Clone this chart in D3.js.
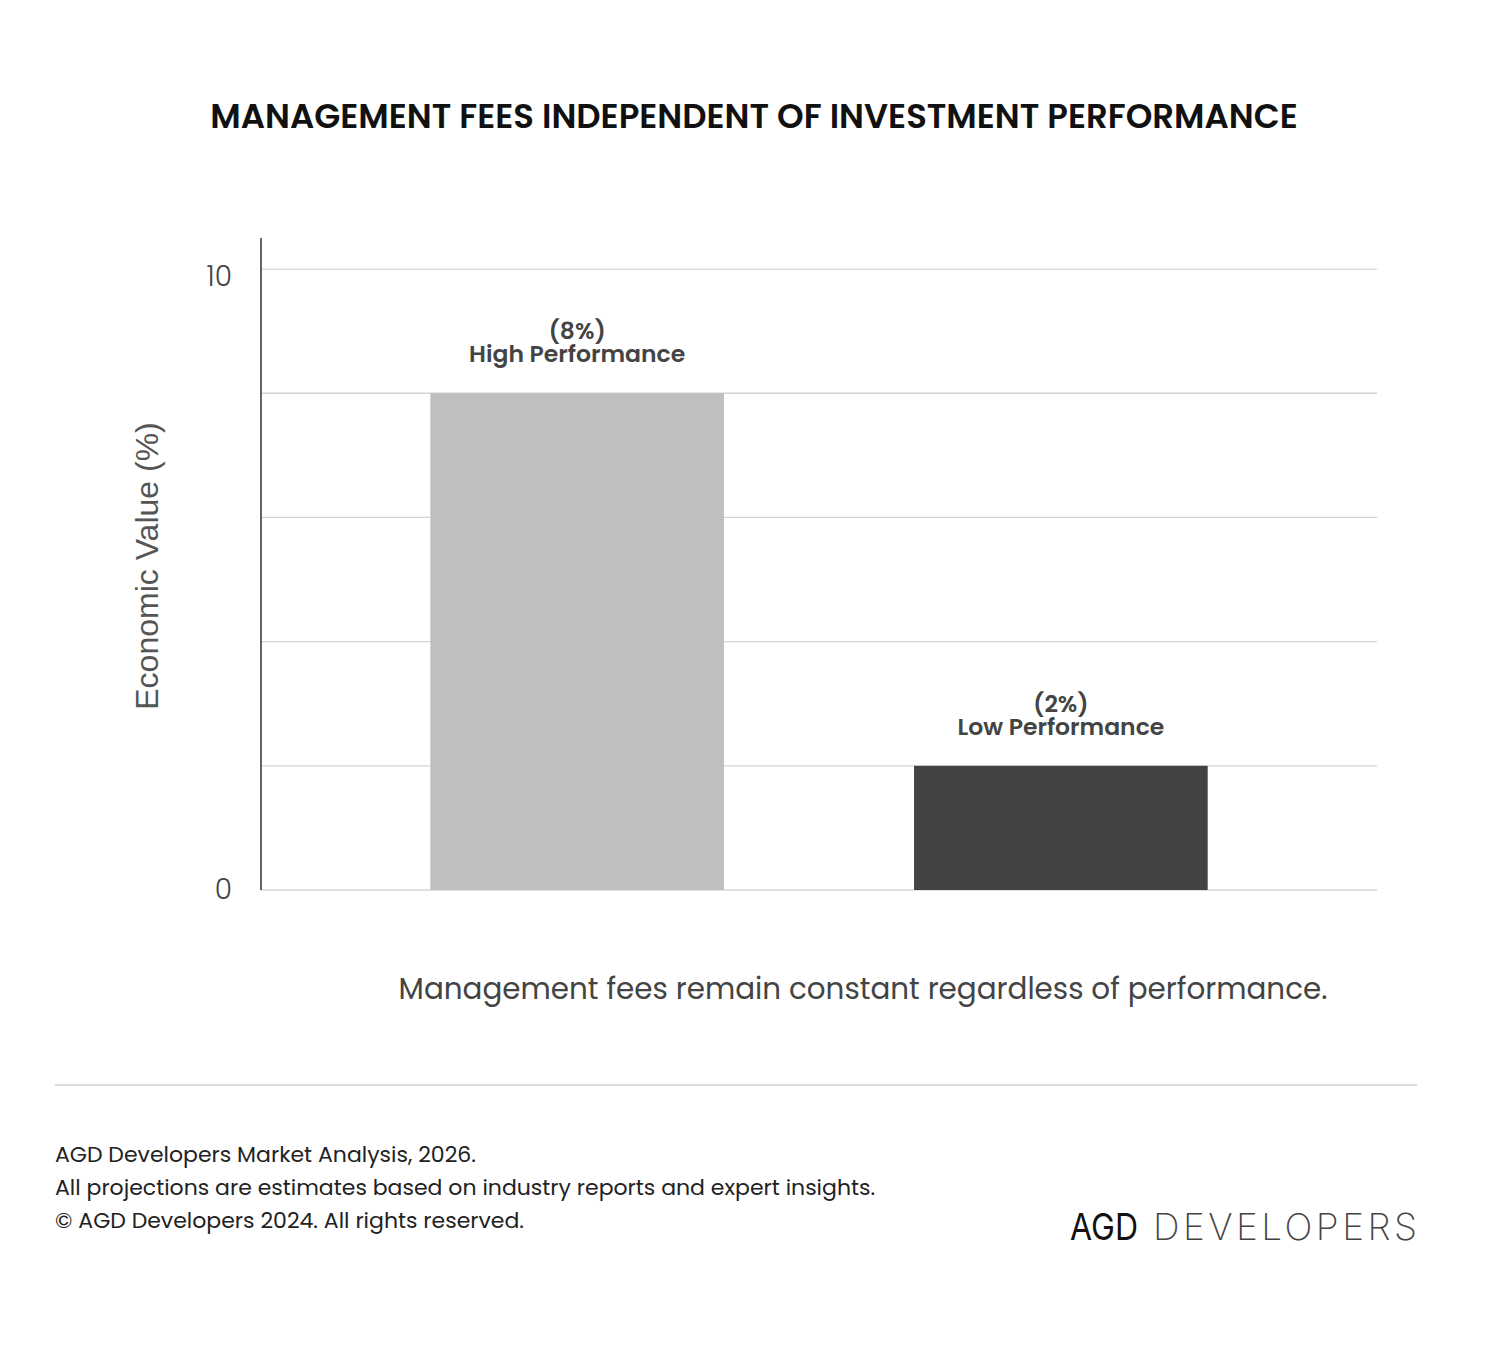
<!DOCTYPE html>
<html>
<head>
<meta charset="utf-8">
<script src="https://cdn.jsdelivr.net/npm/d3@7"></script>
<style>
  html, body { margin: 0; padding: 0; background: #fff; }
  svg { display: block; }
</style>
</head>
<body>
<svg id="chart" width="1508" height="1350"></svg>
<script>
// ---- data ----
const categories = ["High Performance", "Low Performance"];
const values = [8, 2];
const valueLabels = ["(8%)", "(2%)"];
const barColors = ["#bfbfbf", "#434343"];
const gridTicks = [0, 2, 4, 6, 8, 10];
const tickLabels = [0, 10];
const title = "MANAGEMENT FEES INDEPENDENT OF INVESTMENT PERFORMANCE";
const yAxisTitle = "Economic Value (%)";
const caption = "Management fees remain constant regardless of performance.";
const footerLines = [
  "AGD Developers Market Analysis, 2026.",
  "All projections are estimates based on industry reports and expert insights.",
  "© AGD Developers 2024. All rights reserved."
];
const logoMark = "AGD";
const logoWord = "DEVELOPERS";

(function () {
const FONT = "Poppins, Inter, 'Open Sans', sans-serif";
const svg = d3.select("#chart");
svg.append("rect").attr("width", 1508).attr("height", 1350).attr("fill", "#fff");

const pLeft = 261, pRight = 1377, pTop = 238, pBottom = 890;
const y = d3.scaleLinear().domain([0, 10.5]).range([pBottom, pTop]);
const x = d3.scaleBand().domain(categories).range([pLeft, pRight])
  .paddingInner(0.393).paddingOuter(0.35);

// title
svg.append("text")
  .attr("x", 754).attr("y", 128)
  .attr("text-anchor", "middle")
  .attr("font-family", FONT).attr("font-weight", 600)
  .attr("font-size", 33.9).attr("fill", "#111")
  .text(title);

// gridlines
svg.append("g")
  .selectAll("line").data(gridTicks).join("line")
  .attr("x1", pLeft).attr("x2", pRight)
  .attr("y1", d => y(d)).attr("y2", d => y(d))
  .attr("stroke", "#d4d4d4").attr("stroke-width", 1.3);

// bars
svg.append("g")
  .selectAll("rect").data(categories).join("rect")
  .attr("x", d => x(d)).attr("width", x.bandwidth())
  .attr("y", (d, i) => y(values[i]))
  .attr("height", (d, i) => y(0) - y(values[i]))
  .attr("fill", (d, i) => barColors[i]);

// y axis
const yAxis = d3.axisLeft(y).tickValues(tickLabels).tickSize(0).tickPadding(29)
  .tickFormat(d3.format("d"));
const gy = svg.append("g").attr("transform", `translate(${pLeft},0)`).call(yAxis);
gy.select(".domain").remove();
gy.selectAll("text").attr("font-family", FONT).attr("font-size", 28)
  .attr("fill", "#444").attr("font-weight", 300)
  .attr("dy", d => d === 10 ? "0.58em" : "0.32em");
svg.append("line").attr("x1", pLeft).attr("x2", pLeft).attr("y1", pTop).attr("y2", pBottom)
  .attr("stroke", "#333").attr("stroke-width", 1.5);

// bar labels
const lbl = svg.append("g");
categories.forEach((c, i) => {
  const cx = x(c) + x.bandwidth() / 2;
  const ty = y(values[i]);
  lbl.append("text").attr("x", cx).attr("y", ty - 54)
    .attr("text-anchor", "middle").attr("font-family", FONT).attr("font-weight", 600)
    .attr("font-size", 23.5).attr("fill", "#444").text(valueLabels[i]);
  lbl.append("text").attr("x", cx).attr("y", ty - 31)
    .attr("text-anchor", "middle").attr("font-family", FONT).attr("font-weight", 600)
    .attr("font-size", 23.5).attr("fill", "#444").text(c);
});

// y axis title
svg.append("text")
  .attr("transform", "translate(158,566) rotate(-90)")
  .attr("text-anchor", "middle")
  .attr("font-family", "'Liberation Sans', Arial, sans-serif")
  .attr("font-size", 32).attr("fill", "#555")
  .text(yAxisTitle);

// caption
svg.append("text")
  .attr("x", 863).attr("y", 999)
  .attr("text-anchor", "middle")
  .attr("font-family", FONT).attr("font-size", 29.4).attr("fill", "#444")
  .text(caption);

// divider
svg.append("line").attr("x1", 55).attr("x2", 1417).attr("y1", 1085).attr("y2", 1085)
  .attr("stroke", "#d0d0d0").attr("stroke-width", 1.5);

// footer
svg.append("g").selectAll("text").data(footerLines).join("text")
  .attr("x", 55).attr("y", (d, i) => 1162 + i * 33)
  .attr("font-family", FONT).attr("font-size", 22).attr("fill", "#222")
  .text(d => d);

// logo
svg.append("text").attr("x", 1070).attr("y", 1240)
  .attr("font-family", "Inter, 'DejaVu Sans', sans-serif").attr("font-weight", 400)
  .attr("font-size", 37).attr("fill", "#111")
  .attr("textLength", 68).attr("lengthAdjust", "spacingAndGlyphs")
  .text(logoMark);
svg.append("text").attr("x", 1153).attr("y", 1240)
  .attr("font-family", "Inter, 'DejaVu Sans', sans-serif").attr("font-weight", 200)
  .attr("font-size", 37).attr("fill", "#444")
  .attr("textLength", 264).attr("lengthAdjust", "spacing")
  .text(logoWord);
})();
</script>
</body>
</html>
